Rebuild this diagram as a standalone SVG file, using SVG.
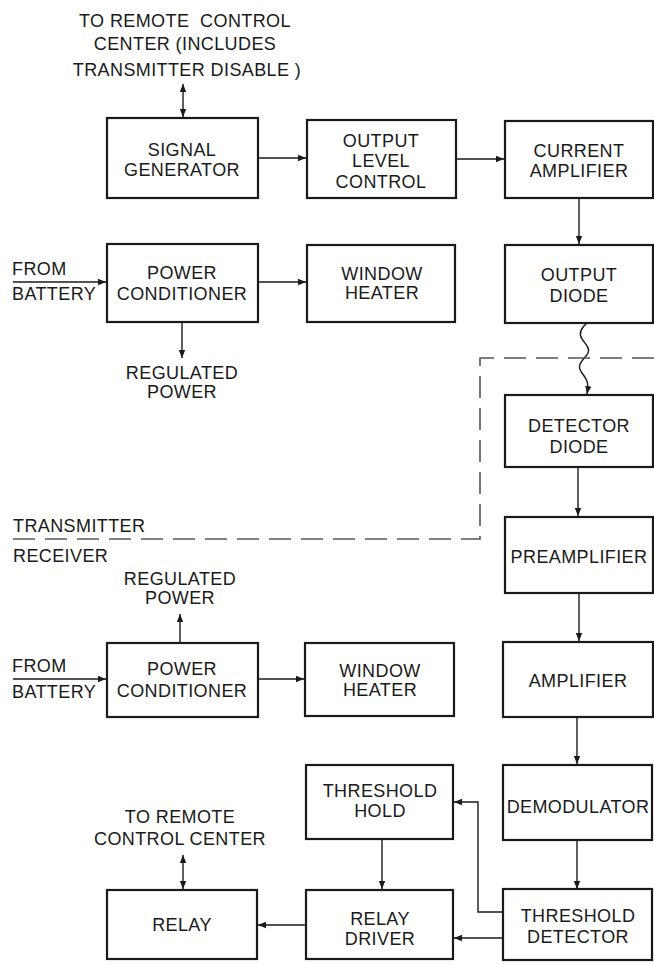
<svg xmlns="http://www.w3.org/2000/svg" width="654" height="964" viewBox="0 0 654 964">
<defs>
<style>
text{font-family:"Liberation Sans",Arial,sans-serif;font-size:18px;fill:#1a1a1a;text-anchor:middle;letter-spacing:0.4px}
.l{text-anchor:start}
rect{fill:#fff;stroke:#1a1a1a;stroke-width:2.2}
.c{fill:none;stroke:#1a1a1a;stroke-width:1.4}
.a{marker-end:url(#ah)}
.d{marker-start:url(#ah);marker-end:url(#ah)}
.dash{fill:none;stroke:#555;stroke-width:1.6;stroke-dasharray:22 10}
</style>
<marker id="ah" viewBox="0 0 10 10" refX="10" refY="5" markerWidth="8" markerHeight="8" markerUnits="userSpaceOnUse" orient="auto-start-reverse"><path d="M0,1 L10,5 L0,9 z" fill="#1a1a1a"/></marker>
</defs>
<rect x="0" y="0" width="654" height="964" style="fill:#fff;stroke:none"/>

<g id="connectors">
<line class="c d" x1="183" y1="84" x2="183" y2="117"/>
<line class="c a" x1="258" y1="158" x2="306" y2="158"/>
<line class="c a" x1="456" y1="159" x2="504" y2="159"/>
<line class="c a" x1="579" y1="198" x2="579" y2="244"/>
<line class="c a" x1="13" y1="282" x2="106" y2="282"/>
<line class="c a" x1="258" y1="282" x2="306" y2="282"/>
<line class="c a" x1="182" y1="322" x2="182" y2="358"/>
<path class="c a" d="M587,323 C581,328 578,333 582,339 S592,349 586,356 S577,366 582,373 S589,382 587,394"/>
<line class="c a" x1="578" y1="467" x2="578" y2="516"/>
<line class="c a" x1="579" y1="593" x2="579" y2="641"/>
<line class="c a" x1="577" y1="717" x2="577" y2="764"/>
<line class="c a" x1="577" y1="840" x2="577" y2="889"/>
<line class="c a" x1="180" y1="643" x2="180" y2="614"/>
<line class="c a" x1="13" y1="679" x2="106" y2="679"/>
<line class="c a" x1="258" y1="679" x2="304" y2="679"/>
<line class="c a" x1="502" y1="938" x2="454" y2="938"/>
<polyline class="c a" points="502,912 478,912 478,802 454,802"/>
<line class="c a" x1="382" y1="839" x2="382" y2="889"/>
<line class="c a" x1="306" y1="925" x2="258" y2="925"/>
<line class="c d" x1="183" y1="855" x2="183" y2="889"/>
<polyline class="dash" points="654,358 480,358 480,539 13,539"/>
</g>

<g id="labels">
<text x="185" y="27" xml:space="preserve">TO REMOTE  CONTROL</text>
<text x="185" y="50">CENTER (INCLUDES</text>
<text x="187" y="76">TRANSMITTER DISABLE )</text>
<text class="l" x="12" y="275">FROM</text>
<text class="l" x="12" y="300">BATTERY</text>
<text x="182" y="379">REGULATED</text>
<text x="182" y="398">POWER</text>
<text class="l" x="13" y="532">TRANSMITTER</text>
<text class="l" x="13" y="562">RECEIVER</text>
<text x="180" y="585">REGULATED</text>
<text x="180" y="604">POWER</text>
<text class="l" x="12" y="672">FROM</text>
<text class="l" x="12" y="698">BATTERY</text>
<text x="180" y="823">TO REMOTE</text>
<text x="180" y="845">CONTROL CENTER</text>
</g>

<g id="signal-generator"><rect x="107" y="118" width="151" height="80"/><text x="182" y="156">SIGNAL</text><text x="182" y="176">GENERATOR</text></g>
<g id="output-level-control"><rect x="307" y="120" width="149" height="78"/><text x="381" y="147">OUTPUT</text><text x="381" y="167">LEVEL</text><text x="381" y="188">CONTROL</text></g>
<g id="current-amplifier"><rect x="505" y="121" width="148" height="77"/><text x="579" y="157">CURRENT</text><text x="579" y="177">AMPLIFIER</text></g>
<g id="power-conditioner-tx"><rect x="107" y="244" width="151" height="78"/><text x="182" y="279">POWER</text><text x="182" y="300">CONDITIONER</text></g>
<g id="window-heater-tx"><rect x="307" y="245" width="148" height="77"/><text x="382" y="280">WINDOW</text><text x="382" y="299">HEATER</text></g>
<g id="output-diode"><rect x="505" y="245" width="148" height="78"/><text x="579" y="281">OUTPUT</text><text x="579" y="302">DIODE</text></g>
<g id="detector-diode"><rect x="505" y="395" width="148" height="72"/><text x="579" y="432">DETECTOR</text><text x="579" y="453">DIODE</text></g>
<g id="preamplifier"><rect x="505" y="517" width="148" height="76"/><text x="579" y="563">PREAMPLIFIER</text></g>
<g id="power-conditioner-rx"><rect x="107" y="643" width="151" height="74"/><text x="182" y="675">POWER</text><text x="182" y="697">CONDITIONER</text></g>
<g id="window-heater-rx"><rect x="305" y="643" width="149" height="73"/><text x="380" y="677">WINDOW</text><text x="380" y="696">HEATER</text></g>
<g id="amplifier"><rect x="503" y="642" width="150" height="75"/><text x="578" y="687">AMPLIFIER</text></g>
<g id="threshold-hold"><rect x="306" y="765" width="147" height="74"/><text x="380" y="797">THRESHOLD</text><text x="380" y="817">HOLD</text></g>
<g id="demodulator"><rect x="503" y="765" width="149" height="75"/><text x="578" y="813">DEMODULATOR</text></g>
<g id="relay"><rect x="107" y="890" width="150" height="69"/><text x="182" y="931">RELAY</text></g>
<g id="relay-driver"><rect x="306" y="890" width="147" height="69"/><text x="380" y="925">RELAY</text><text x="380" y="945">DRIVER</text></g>
<g id="threshold-detector"><rect x="503" y="889" width="149" height="71"/><text x="578" y="922">THRESHOLD</text><text x="578" y="943">DETECTOR</text></g>
</svg>
